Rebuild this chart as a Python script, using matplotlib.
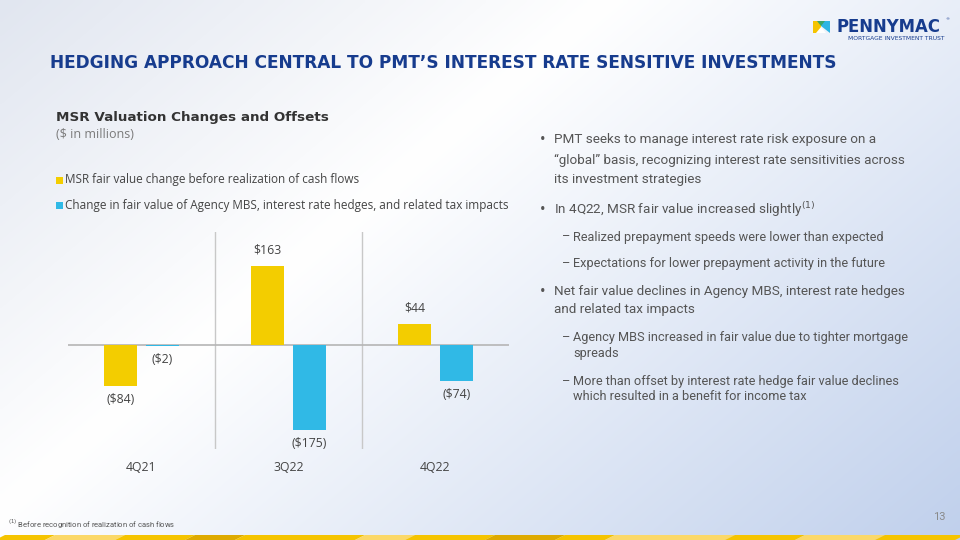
import numpy as np
import matplotlib
matplotlib.use("Agg")
import matplotlib.pyplot as plt
from matplotlib.patches import Polygon, Rectangle

# ---- data ----
categories = ["4Q21", "3Q22", "4Q22"]
msr_change = [-84, 163, 44]
hedge_change = [-2, -175, -74]
series_names = ["MSR fair value change before realization of cash flows",
                "Change in fair value of Agency MBS, interest rate hedges, and related tax impacts"]

W, H = 960, 540
fig = plt.figure(figsize=(9.6, 5.4), dpi=100)

def ax_px(x0, y0, x1, y1, **kw):
    return fig.add_axes([x0 / W, 1 - y1 / H, (x1 - x0) / W, (y1 - y0) / H], **kw)

# ---- background gradient ----
bg = ax_px(0, 0, W, H)
bg.set_axis_off()
xx, yy = np.meshgrid(np.linspace(0, 1, 240), np.linspace(0, 1, 135))
t = 0.6 * xx + 0.4 * yy
c_tl = np.array([0xe1, 0xe6, 0xf0]) / 255
c_mid = np.array([1.0, 1.0, 1.0])
c_br = np.array([0xc0, 0xd0, 0xec]) / 255
a = np.clip(t / 0.38, 0, 1)[..., None]
b = np.clip((t - 0.38) / 0.62, 0, 1)[..., None]
img = np.where((t < 0.38)[..., None], c_tl * (1 - a) + c_mid * a, c_mid * (1 - b) + c_br * b)
bg.imshow(img, extent=[0, W, H, 0], aspect="auto", interpolation="bilinear")
bg.set_xlim(0, W)
bg.set_ylim(H, 0)

# bottom stripe
stripe_cols = ["#f5c400", "#fbd868", "#f5c400", "#deaa00", "#f5c400", "#fbd868", "#f5c400",
               "#deaa00", "#f5c400", "#fbd868", "#f5c400", "#fbd868", "#f5c400"]
edges = [0, 50, 120, 190, 240, 360, 410, 490, 560, 610, 730, 800, 880, 960]
for i, col in enumerate(stripe_cols):
    x0, x1 = edges[i], edges[i + 1]
    bg.add_patch(Polygon([[x0 - 5, H], [x0 + 5, 535], [x1 + 5, 535], [x1 - 5, H]],
                         closed=True, color=col, lw=0))

# ---- title ----
fig.text(50 / W, 1 - 63 / H, "HEDGING APPROACH CENTRAL TO PMT\u2019S INTEREST RATE SENSITIVE INVESTMENTS",
         fontsize=12.25, fontweight="bold", color="#173c8e", family="DejaVu Sans", va="center")

# ---- logo ----
bg.add_patch(Polygon([[813, 21], [821, 21], [821, 33], [813, 33]], closed=True, color="#f5c400", lw=0))
bg.add_patch(Polygon([[821, 21], [830, 21], [830, 33], [821, 26]], closed=True, color="#2db5e4", lw=0))
bg.add_patch(Polygon([[817, 21], [825, 21], [821, 26]], closed=True, color="#3aa66a", lw=0))
bg.add_patch(Polygon([[816, 33], [821, 27], [826, 33]], closed=True, color="#ffffff", lw=0))
fig.text(837 / W, 1 - 26.5 / H, "PENNYMAC", fontsize=11.9, color="#173c8e", family="DejaVu Sans",
         fontweight="bold", va="center")
fig.text(945 / W, 1 - 19 / H, "\u00ae", fontsize=3, color="#173c8e", va="center")
fig.text(848 / W, 1 - 39 / H, "MORTGAGE INVESTMENT TRUST", fontsize=4.3, color="#173c8e",
         family="DejaVu Sans", va="center")

# ---- chart heading + legend ----
fig.text(56 / W, 1 - 117 / H, "MSR Valuation Changes and Offsets", fontsize=9.7,
         fontweight="bold", color="#333333", family="DejaVu Sans", va="center")
fig.text(56 / W, 1 - 135 / H, "($ in millions)", fontsize=9.0, color="#7a7a7a",
         family="Open Sans", va="center")

yellow = "#f3cd00"
blue = "#30b9e6"
for yc, col, name in [(180, yellow, series_names[0]), (205, blue, series_names[1])]:
    bg.add_patch(Rectangle((56, yc - 3.5), 7, 7, color=col, lw=0))
    fig.text(65 / W, 1 - yc / H, name, fontsize=8.5, color="#444444", family="Open Sans", va="center")

# ---- bar chart ----
ax = ax_px(68, 232, 509, 449)
ax.set_facecolor("none")
ax.patch.set_alpha(0)
x = np.arange(len(categories))
bw = 0.225
off = 0.143
ax.bar(x - off, msr_change, width=bw, color=yellow, zorder=3)
ax.bar(x + off, hedge_change, width=bw, color=blue, zorder=3)
ax.set_xlim(-0.5, 2.5)
ax.set_ylim(-214, 233)
ax.axhline(0, color="#b5b5b5", lw=1.2, zorder=2)
for sep in [0.5, 1.5]:
    ax.axvline(sep, color="#c8c8c8", lw=1.0, zorder=1)
for s in ax.spines.values():
    s.set_visible(False)
ax.set_xticks([])
ax.set_yticks([])

def fmt(v):
    return f"${v}" if v >= 0 else f"(${-v})"

lab_kw = dict(fontsize=8.8, color="#444444", family="Open Sans", ha="center")
for xi, v in zip(x - off, msr_change):
    if v >= 0:
        ax.annotate(fmt(v), (xi, v), xytext=(0, 7), textcoords="offset points", va="bottom", **lab_kw)
    else:
        ax.annotate(fmt(v), (xi, v), xytext=(0, -5), textcoords="offset points", va="top", **lab_kw)
for xi, v in zip(x + off, hedge_change):
    ax.annotate(fmt(v), (xi, v), xytext=(0, -5), textcoords="offset points", va="top", **lab_kw)

for xi, c in zip(x, categories):
    ax.annotate(c, (xi, 0), xycoords=("data", "axes fraction"), xytext=(0, -13),
                textcoords="offset points", va="center", **lab_kw)

# ---- bullets ----
bul_kw = dict(color="#555555", family="Roboto", va="center")
bullets = [
    (540, 554, [140, 160, 180], ["PMT seeks to manage interest rate risk exposure on a",
                                 "\u201cglobal\u201d basis, recognizing interest rate sensitivities across",
                                 "its investment strategies"], "\u2022"),
    (540, 554, [210], ["In 4Q22, MSR fair value increased slightly$^{(1)}$"], "\u2022"),
    (562, 573, [237], ["Realized prepayment speeds were lower than expected"], "\u2013"),
    (562, 573, [264], ["Expectations for lower prepayment activity in the future"], "\u2013"),
    (540, 554, [292, 310], ["Net fair value declines in Agency MBS, interest rate hedges",
                            "and related tax impacts"], "\u2022"),
    (562, 573, [338, 354], ["Agency MBS increased in fair value due to tighter mortgage",
                            "spreads"], "\u2013"),
    (562, 573, [382, 397], ["More than offset by interest rate hedge fair value declines",
                            "which resulted in a benefit for income tax"], "\u2013"),
]
for bx, tx, ys, lines, sym in bullets:
    sub = sym != "\u2022"
    sz = 9.2 if sub else 9.7
    fig.text(bx / W, 1 - ys[0] / H, sym, fontsize=sz if sub else 12, **bul_kw)
    for yv, ln in zip(ys, lines):
        fig.text(tx / W, 1 - yv / H, ln, fontsize=sz, **bul_kw)

# ---- footnote + page number ----
fig.text(8 / W, 1 - 524 / H, "$^{(1)}$ Before recognition of realization of cash flows", fontsize=5.5,
         color="#555555", family="Roboto", va="center")
fig.text(946 / W, 1 - 517 / H, "13", fontsize=8, color="#8a8a8a", family="Roboto",
         va="center", ha="right")

fig.savefig("out.png", dpi=100)
